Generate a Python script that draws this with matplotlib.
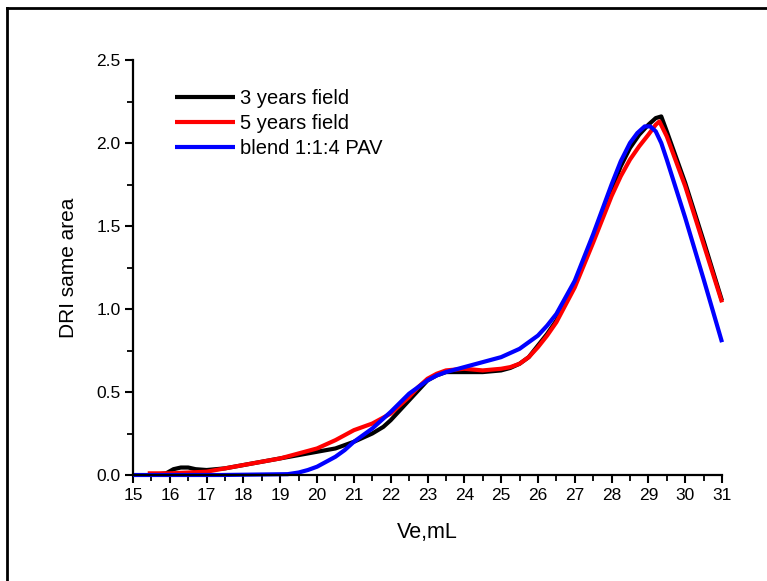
import matplotlib
matplotlib.use("Agg")
import matplotlib.pyplot as plt
from matplotlib.lines import Line2D
from matplotlib.ticker import MultipleLocator, FormatStrFormatter

plt.rcParams['font.family'] = ['Liberation Sans', 'DejaVu Sans']

# 3 years field
ve_3y = [15.5, 15.9, 16.1, 16.3, 16.5, 16.7, 17.0, 17.5, 18.0, 18.5, 19.0, 19.5, 20.0,
         20.5, 21.0, 21.5, 21.8, 22.0, 22.25, 22.5, 22.75, 23.0, 23.25, 23.5, 24.0, 24.5,
         25.0, 25.25, 25.5, 25.75, 26.0, 26.25, 26.5, 27.0, 27.5, 28.0, 28.25, 28.5,
         28.75, 29.0, 29.2, 29.35, 29.5, 30.0, 30.5, 31.0]
dri_3y = [0.0, 0.01, 0.035, 0.045, 0.045, 0.035, 0.03, 0.04, 0.06, 0.08, 0.10, 0.12, 0.14,
          0.16, 0.20, 0.25, 0.29, 0.33, 0.39, 0.45, 0.51, 0.57, 0.60, 0.62, 0.62, 0.62,
          0.63, 0.645, 0.67, 0.71, 0.78, 0.85, 0.93, 1.15, 1.42, 1.72, 1.86, 1.97,
          2.05, 2.11, 2.15, 2.16, 2.07, 1.76, 1.41, 1.05]

# 5 years field
ve_5y = [15.4, 16.0, 17.0, 17.5, 18.0, 18.5, 19.0, 19.5, 20.0, 20.5, 21.0, 21.5,
         22.0, 22.25, 22.5, 22.75, 23.0, 23.25, 23.5, 24.0, 24.5, 25.0, 25.25, 25.5,
         25.75, 26.0, 26.25, 26.5, 27.0, 27.5, 28.0, 28.25, 28.5, 28.75, 29.0, 29.2,
         29.3, 29.5, 30.0, 30.5, 31.0]
dri_5y = [0.01, 0.01, 0.02, 0.04, 0.06, 0.08, 0.10, 0.13, 0.16, 0.21, 0.27, 0.31,
          0.37, 0.42, 0.47, 0.53, 0.58, 0.61, 0.63, 0.64, 0.63, 0.64, 0.65, 0.67,
          0.71, 0.77, 0.84, 0.92, 1.13, 1.40, 1.68, 1.80, 1.90, 1.98, 2.05, 2.11,
          2.13, 2.04, 1.74, 1.39, 1.04]

# blend 1:1:4 PAV
ve_blend = [15.0, 17.4, 19.2, 19.5, 19.75, 20.0, 20.25, 20.5, 20.75, 21.0, 21.5, 22.0,
            22.5, 23.0, 23.25, 23.5, 24.0, 24.5, 25.0, 25.5, 26.0, 26.25, 26.5, 27.0,
            27.5, 28.0, 28.25, 28.5, 28.7, 28.9, 29.05, 29.2, 29.35, 29.5, 30.0, 30.5,
            31.0]
dri_blend = [0.0, 0.0, 0.005, 0.015, 0.03, 0.05, 0.08, 0.11, 0.15, 0.20, 0.28, 0.38,
             0.49, 0.57, 0.60, 0.62, 0.65, 0.68, 0.71, 0.76, 0.84, 0.90, 0.97, 1.17,
             1.45, 1.75, 1.89, 2.00, 2.06, 2.10, 2.10, 2.07, 2.00, 1.90, 1.55, 1.18,
             0.80]

series = [
    (ve_3y, dri_3y, 'black', '3 years field'),
    (ve_5y, dri_5y, '#ff0000', '5 years field'),
    (ve_blend, dri_blend, '#0000ff', 'blend 1:1:4 PAV'),
]

fig = plt.figure(figsize=(7.67, 5.81), dpi=100)
ax = fig.add_axes([133 / 767, 1 - 475 / 581, (722 - 133) / 767, (475 - 60) / 581])

for x, y, c, lab in series:
    ax.plot(x, y, color=c, lw=3.0, label=lab, clip_on=False,
            solid_capstyle='butt', solid_joinstyle='round')

ax.set_xlim(15, 31)
ax.set_ylim(0, 2.5)
ax.xaxis.set_major_locator(MultipleLocator(1))
ax.xaxis.set_minor_locator(MultipleLocator(0.5))
ax.yaxis.set_major_locator(MultipleLocator(0.5))
ax.yaxis.set_minor_locator(MultipleLocator(0.25))
ax.yaxis.set_major_formatter(FormatStrFormatter('%.1f'))

for s in ['top', 'right']:
    ax.spines[s].set_visible(False)
for s in ['left', 'bottom']:
    ax.spines[s].set_linewidth(1.6)

ax.tick_params(which='major', direction='out', length=6, width=1.5, labelsize=12.5, pad=3)
ax.tick_params(which='minor', direction='out', length=4, width=1.3)

ax.set_xlabel('Ve,mL', fontsize=15.5, labelpad=14)
ax.set_ylabel('DRI same area', fontsize=15, labelpad=13)

ax.legend(loc='upper left', bbox_to_anchor=(0.057, 0.95), frameon=False,
          fontsize=14.5, handlelength=3.0, handletextpad=0.25, labelspacing=0.3,
          borderaxespad=0)

# outer frame
fig.add_artist(Line2D([7 / 767, 7 / 767], [0, 1 - 7.5 / 581], color='black', lw=2.0,
                      transform=fig.transFigure))
fig.add_artist(Line2D([7 / 767, 1], [1 - 7.5 / 581, 1 - 7.5 / 581], color='black', lw=2.0,
                      transform=fig.transFigure))

fig.savefig('out.png', dpi=100)
